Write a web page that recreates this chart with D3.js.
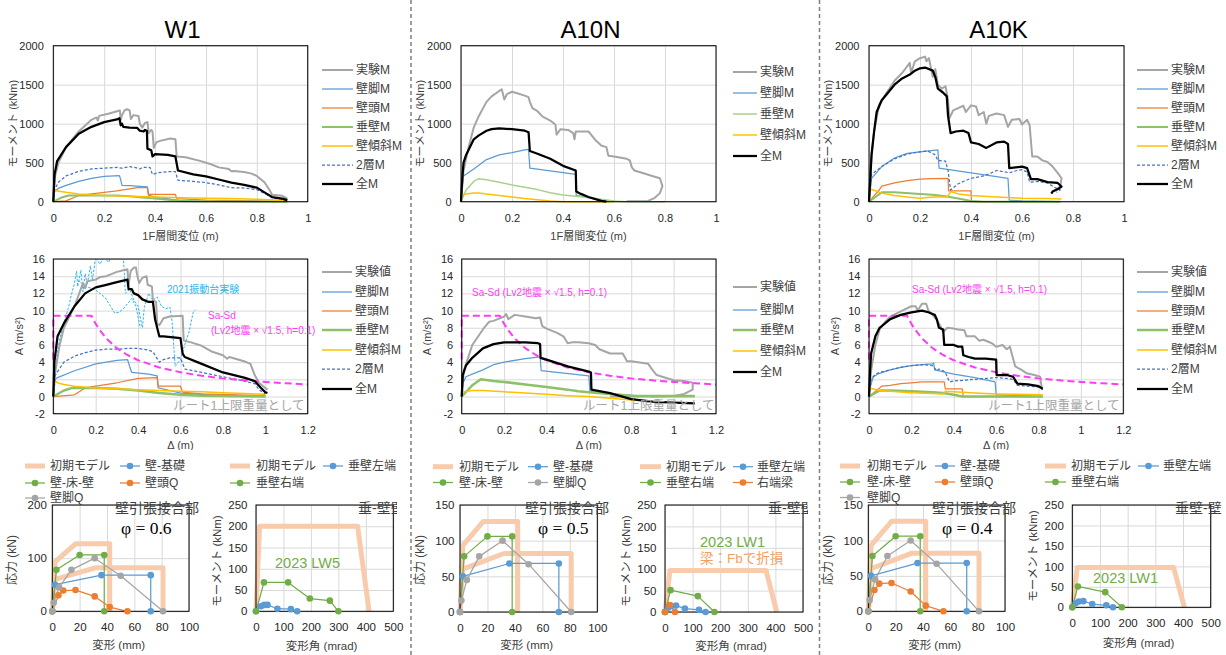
<!DOCTYPE html>
<html><head><meta charset="utf-8">
<script src="https://cdn.jsdelivr.net/npm/d3@7"></script>
<style>body{margin:0;background:#fff}svg{display:block}</style>
</head><body><svg id="c" width="1226" height="655"></svg>
<script>
// ---------------- DATA ----------------
const panelTitles = ['W1', 'A10N', 'A10K'];
const topNamesFull = ['実験M','壁脚M','壁頭M','垂壁M','壁傾斜M','2層M','全M'];
const topNamesA10N = ['実験M','壁脚M','垂壁M','壁傾斜M','全M'];
const midNamesFull = ['実験値','壁脚M','壁頭M','垂壁M','壁傾斜M','2層M','全M'];
const midNamesA10N = ['実験値','壁脚M','垂壁M','壁傾斜M','全M'];
const topXTicks = [0,0.2,0.4,0.6,0.8,1];
const topYTicks = [0,500,1000,1500,2000];
const midXTicks = [0,0.2,0.4,0.6,0.8,1,1.2];
const midYTicks = [-2,0,2,4,6,8,10,12,14,16];
const jointXTicks = [0,20,40,60,80,100];
const jointYTicksW1 = [0,100,200];
const jointYTicks = [0,50,100,150];
const hangXTicks = [0,100,200,300,400,500];
const hangYTicks = [0,50,100,150,200,250];

// W1 top (x: m, y: kNm)
const w1TopExp = [[0,0],[0.005,300],[0.02,500],[0.05,700],[0.1,900],[0.15,1050],[0.17,1080],[0.175,1040],[0.18,1100],[0.22,1130],[0.25,1160],[0.262,1170],[0.265,1050],[0.27,1110],[0.28,1170],[0.29,1185],[0.3,1170],[0.305,1060],[0.315,1110],[0.335,1100],[0.34,1000],[0.35,950],[0.36,1010],[0.37,1020],[0.375,880],[0.385,920],[0.39,900],[0.395,690],[0.405,760],[0.42,780],[0.46,810],[0.48,800],[0.485,580],[0.52,570],[0.58,520],[0.62,480],[0.65,440],[0.69,420],[0.7,390],[0.71,395],[0.75,380],[0.78,360],[0.8,330],[0.83,250],[0.85,150],[0.86,90],[0.9,75],[0.92,40]];
const w1TopBase = [[0,0],[0.005,130],[0.02,170],[0.05,210],[0.1,260],[0.15,300],[0.2,325],[0.26,335],[0.265,280],[0.27,210],[0.3,205],[0.37,190],[0.375,80],[0.4,60],[0.5,15],[0.6,5],[0.92,0]];
const w1TopHead = [[0,0],[0.05,10],[0.1,80],[0.15,100],[0.2,120],[0.25,140],[0.3,165],[0.33,180],[0.37,180],[0.373,95],[0.48,95],[0.485,40],[0.6,20],[0.92,5]];
const w1TopHang = [[0,0],[0.03,50],[0.06,80],[0.1,80],[0.2,80],[0.25,80],[0.3,70],[0.35,55],[0.4,40],[0.5,10],[0.55,5],[0.92,0]];
const w1TopSlope = [[0,160],[0.01,140],[0.05,120],[0.1,100],[0.2,80],[0.3,70],[0.4,60],[0.5,50],[0.6,45],[0.7,40],[0.8,30],[0.92,15]];
const w1Top2F = [[0,0],[0.005,150],[0.02,250],[0.05,330],[0.1,390],[0.15,420],[0.2,430],[0.25,440],[0.27,430],[0.3,450],[0.32,440],[0.34,420],[0.35,440],[0.38,440],[0.39,350],[0.41,370],[0.45,385],[0.48,385],[0.49,275],[0.55,260],[0.6,245],[0.65,215],[0.7,180],[0.75,175],[0.8,155],[0.84,90],[0.86,50],[0.9,30],[0.92,10]];
const w1TopAll = [[0,0],[0.005,350],[0.015,520],[0.05,700],[0.1,870],[0.15,960],[0.2,1020],[0.25,1055],[0.26,1070],[0.265,980],[0.27,1000],[0.275,960],[0.3,950],[0.33,945],[0.34,910],[0.355,900],[0.36,920],[0.368,910],[0.37,680],[0.385,660],[0.39,580],[0.4,610],[0.45,600],[0.48,580],[0.49,400],[0.55,350],[0.6,325],[0.65,285],[0.7,245],[0.75,215],[0.8,180],[0.83,120],[0.86,60],[0.9,40],[0.92,20]];

// A10N top
const a10nTopExp = [[0,0],[0.01,400],[0.03,700],[0.05,950],[0.07,1100],[0.1,1280],[0.12,1350],[0.15,1420],[0.16,1440],[0.17,1310],[0.18,1380],[0.2,1410],[0.22,1390],[0.25,1360],[0.265,1340],[0.27,1280],[0.28,1200],[0.3,1160],[0.32,1090],[0.35,1040],[0.37,990],[0.375,860],[0.39,930],[0.42,920],[0.44,880],[0.445,800],[0.45,900],[0.5,900],[0.51,860],[0.53,780],[0.55,720],[0.57,700],[0.578,590],[0.6,580],[0.65,550],[0.662,530],[0.67,440],[0.68,400],[0.7,380],[0.75,330],[0.78,300],[0.79,200],[0.78,110],[0.76,50],[0.73,5],[0.65,5]];
const a10nTopBase = [[0,0],[0.005,200],[0.01,330],[0.05,420],[0.1,540],[0.15,600],[0.2,630],[0.25,665],[0.265,670],[0.27,430],[0.35,395],[0.45,350],[0.452,80],[0.5,50],[0.55,20],[0.6,5],[0.8,0]];
const a10nTopHang = [[0,0],[0.02,150],[0.05,260],[0.07,295],[0.1,280],[0.15,250],[0.2,215],[0.25,185],[0.3,155],[0.35,115],[0.4,85],[0.45,70],[0.5,55],[0.55,30],[0.6,10],[0.65,0],[0.8,0]];
const a10nTopSlope = [[0,90],[0.02,100],[0.05,110],[0.07,110],[0.1,100],[0.15,80],[0.2,60],[0.25,40],[0.3,25],[0.35,10],[0.4,0],[0.6,0]];
const a10nTopAll = [[0,0],[0.005,300],[0.01,500],[0.02,600],[0.05,800],[0.07,850],[0.1,910],[0.12,930],[0.15,940],[0.2,930],[0.25,910],[0.265,890],[0.27,650],[0.3,615],[0.35,550],[0.4,460],[0.45,400],[0.452,130],[0.47,100],[0.5,60],[0.55,10],[0.57,0]];

// A10K top
const a10kTopExp = [[0,0],[0.01,600],[0.02,900],[0.04,1250],[0.06,1350],[0.08,1450],[0.1,1550],[0.13,1650],[0.16,1780],[0.165,1650],[0.18,1800],[0.2,1840],[0.22,1860],[0.225,1800],[0.235,1840],[0.25,1600],[0.26,1700],[0.27,1500],[0.285,1450],[0.3,1480],[0.31,1300],[0.315,1070],[0.33,1170],[0.35,1200],[0.37,1230],[0.38,1150],[0.4,1235],[0.42,1220],[0.43,1110],[0.45,1150],[0.46,1000],[0.47,1100],[0.5,1130],[0.53,1110],[0.545,960],[0.56,1050],[0.59,1060],[0.6,990],[0.62,1050],[0.63,980],[0.64,580],[0.66,580],[0.68,530],[0.7,510],[0.72,450],[0.74,370],[0.755,300],[0.75,200],[0.735,150]];
const a10kTopBase = [[0,0],[0.01,300],[0.05,450],[0.1,560],[0.15,620],[0.2,640],[0.27,665],[0.275,430],[0.4,370],[0.5,320],[0.545,300],[0.55,20],[0.6,10],[0.75,0]];
const a10kTopHead = [[0,0],[0.04,150],[0.05,200],[0.1,240],[0.15,270],[0.2,290],[0.25,295],[0.31,300],[0.312,140],[0.4,140],[0.402,0],[0.75,0]];
const a10kTopHang = [[0,0],[0.05,120],[0.1,120],[0.2,100],[0.25,90],[0.3,70],[0.35,40],[0.4,10],[0.45,0],[0.75,0]];
const a10kTopSlope = [[0,170],[0.05,110],[0.1,80],[0.15,60],[0.2,45],[0.25,60],[0.3,60],[0.31,70],[0.32,130],[0.35,100],[0.4,80],[0.45,70],[0.5,60],[0.6,45],[0.7,40],[0.755,35]];
const a10kTop2F = [[0,0],[0.01,350],[0.05,450],[0.1,550],[0.15,610],[0.2,640],[0.23,650],[0.26,600],[0.27,530],[0.3,520],[0.31,400],[0.32,150],[0.35,230],[0.4,300],[0.45,330],[0.48,370],[0.5,400],[0.52,390],[0.55,370],[0.58,400],[0.6,410],[0.62,380],[0.63,250],[0.66,260],[0.7,240],[0.73,180],[0.75,150],[0.735,120]];
const a10kTopAll = [[0,0],[0.005,300],[0.01,600],[0.02,900],[0.03,1150],[0.05,1300],[0.08,1420],[0.1,1500],[0.13,1580],[0.16,1630],[0.18,1680],[0.2,1710],[0.22,1720],[0.25,1680],[0.26,1600],[0.27,1450],[0.29,1400],[0.305,1350],[0.31,1100],[0.32,880],[0.34,900],[0.37,910],[0.39,880],[0.4,760],[0.43,740],[0.46,690],[0.5,760],[0.53,770],[0.545,740],[0.55,430],[0.6,450],[0.62,430],[0.635,290],[0.66,290],[0.7,250],[0.74,240],[0.755,195],[0.745,170],[0.72,130],[0.715,105]];

// Middle (x: Δ m, y: A m/s2)
const sasd = [[0,4.3],[0,9.4],[0.18,9.4],[0.2,8.45],[0.22,7.7],[0.25,6.76],[0.3,5.63],[0.35,4.83],[0.4,4.22],[0.5,3.38],[0.6,2.82],[0.7,2.41],[0.8,2.11],[0.9,1.88],[1.0,1.69],[1.1,1.54],[1.2,1.41]];
const w1MidExp = [[0,0],[0.01,3],[0.03,6],[0.05,8],[0.1,10.5],[0.14,13.2],[0.15,12.6],[0.16,13.4],[0.2,13.6],[0.22,13.9],[0.25,14],[0.28,14.3],[0.3,14.5],[0.33,14.7],[0.35,14.8],[0.355,13],[0.365,14.6],[0.38,15],[0.39,15],[0.395,14.2],[0.405,13.2],[0.42,13.8],[0.44,14],[0.445,13],[0.465,12.8],[0.47,11.2],[0.485,11],[0.49,8.5],[0.5,8.3],[0.52,9.1],[0.55,9.3],[0.61,9.4],[0.615,6.5],[0.65,6.3],[0.7,5.9],[0.75,5.2],[0.8,4.8],[0.82,4.4],[0.83,4.6],[0.9,4.1],[0.93,3.8],[0.95,2.5],[0.97,1.6],[1.0,1.0],[1.01,0.8]];
const w1MidBase = [[0,0],[0.005,2],[0.02,2.2],[0.1,3],[0.2,3.8],[0.3,4.2],[0.35,4.3],[0.36,3.5],[0.37,2.8],[0.45,2.6],[0.49,2.4],[0.495,1],[0.55,0.7],[0.6,0.4],[0.8,0.1],[1.0,0]];
const w1MidHead = [[0,0],[0.1,0.2],[0.15,1],[0.2,1.2],[0.3,1.6],[0.4,2.1],[0.49,2.2],[0.495,1.2],[0.6,1.2],[0.61,0.5],[0.7,0.3],[1.0,0.1]];
const w1MidHang = [[0,0],[0.05,0.7],[0.09,1],[0.2,1],[0.3,0.9],[0.4,0.7],[0.5,0.4],[0.6,0.2],[0.7,0.1],[1.0,0]];
const w1MidSlope = [[0,1.9],[0.02,1.6],[0.05,1.4],[0.1,1.2],[0.2,1.0],[0.3,0.9],[0.4,0.8],[0.5,0.7],[0.6,0.6],[0.7,0.55],[0.8,0.45],[0.9,0.35],[1.0,0.25]];
const w1Mid2F = [[0,0],[0.01,2.5],[0.05,4],[0.1,4.7],[0.15,5.1],[0.2,5.4],[0.25,5.5],[0.3,5.5],[0.35,5.6],[0.4,5.6],[0.45,5.4],[0.47,5.2],[0.5,4],[0.52,4.3],[0.55,4.5],[0.6,4.5],[0.62,3.2],[0.7,2.8],[0.8,2.3],[0.9,1.8],[0.95,1.5],[0.97,0.8],[1.0,0.3]];
const w1MidAll = [[0,0],[0.005,4],[0.02,7],[0.05,8.5],[0.1,10.5],[0.15,12],[0.2,12.7],[0.25,13],[0.3,13.3],[0.35,13.6],[0.355,12.5],[0.37,12.5],[0.38,12],[0.4,11.8],[0.42,11.3],[0.45,11],[0.47,11],[0.48,9],[0.49,8],[0.5,7],[0.52,7],[0.6,6.8],[0.61,5],[0.62,4.6],[0.7,3.8],[0.8,2.8],[0.9,2.2],[0.95,1.8],[0.98,1],[1.0,0.5],[1.01,0.4]];
const w1MidShake = [[0,0],[0.01,2.5],[0.02,5.5],[0.035,7.2],[0.05,8.6],[0.07,10.2],[0.085,11.8],[0.1,13.2],[0.11,14.6],[0.115,12.8],[0.13,14.7],[0.14,12.2],[0.15,14.3],[0.16,13],[0.175,15.2],[0.185,13.6],[0.2,16.2],[0.22,15.4],[0.24,16.3],[0.26,15.6],[0.28,16.4],[0.33,16.5],[0.34,12],[0.36,12.5],[0.38,11.2],[0.4,10.5],[0.42,8],[0.43,10.5],[0.45,12],[0.47,11.2],[0.49,11.6],[0.51,10.5],[0.53,10.2],[0.55,10.4],[0.56,8.8],[0.575,3.5],[0.6,4.3],[0.62,6],[0.64,7.5],[0.66,9.8],[0.67,10.1]];
const w1MidShake2 = [[0.12,13.5],[0.15,12.8],[0.18,12.6],[0.2,12.4],[0.22,12],[0.245,11.5],[0.27,10.5],[0.29,9.7],[0.31,9.8],[0.33,10.2],[0.35,10.8],[0.37,11.4],[0.39,10.5],[0.41,8.0]];

const a10nMidExp = [[0,0],[0.01,3],[0.03,4.5],[0.05,6],[0.1,7.8],[0.13,8.7],[0.15,8.8],[0.2,9.3],[0.21,9.6],[0.22,9],[0.25,9.5],[0.3,9.3],[0.35,9.1],[0.37,9.2],[0.38,8.2],[0.4,7.9],[0.45,7.4],[0.48,7],[0.5,6.2],[0.52,6.3],[0.55,6.3],[0.6,6.2],[0.63,6.0],[0.65,5.5],[0.7,5],[0.76,5],[0.78,4.1],[0.8,4.1],[0.88,3.8],[0.9,3.1],[0.92,2.5],[1.0,1.9],[1.05,1.8],[1.09,1.6],[1.09,0.8],[1.05,0.3],[1.0,0.05],[0.9,0],[0.7,0]];
const a10nMidBase = [[0,0],[0.005,1.5],[0.02,2.3],[0.05,2.6],[0.1,3.1],[0.15,3.7],[0.2,4],[0.3,4.4],[0.37,4.6],[0.375,3],[0.45,2.8],[0.6,2.4],[0.605,0.6],[0.7,0.3],[0.9,0],[1.1,0]];
const a10nMidHang = [[0,0],[0.05,1.3],[0.09,2],[0.15,1.8],[0.2,1.7],[0.3,1.4],[0.4,1.1],[0.5,0.8],[0.55,0.6],[0.6,0.5],[0.7,0.3],[0.8,0.1],[0.9,0.05],[1.1,0.05]];
const a10nMidSlope = [[0,0.5],[0.05,0.7],[0.1,0.7],[0.2,0.55],[0.3,0.4],[0.4,0.25],[0.5,0.1],[0.6,0],[0.7,-0.2],[0.8,-0.4],[0.85,-0.5]];
const a10nMidAll = [[0,0],[0.005,2.5],[0.02,3.6],[0.05,4.5],[0.1,5.6],[0.15,6.1],[0.2,6.3],[0.3,6.3],[0.36,6.2],[0.37,6.1],[0.372,4.5],[0.4,4.3],[0.5,3.5],[0.6,2.9],[0.61,2.8],[0.612,0.8],[0.7,0.4],[0.8,-0.3],[0.9,-0.6],[1.0,-0.7],[1.1,-0.8]];

const a10kMidExp = [[0,0],[0.01,3],[0.03,6],[0.05,7.8],[0.08,8.8],[0.1,9.3],[0.15,9.9],[0.2,10.5],[0.22,10.5],[0.23,10],[0.25,10.8],[0.27,10.8],[0.28,10],[0.3,9.5],[0.32,8.9],[0.335,8.3],[0.35,7.5],[0.37,8],[0.4,7.9],[0.42,7.8],[0.45,7.7],[0.46,7],[0.48,7],[0.5,7],[0.52,6.5],[0.54,6.6],[0.58,6.2],[0.6,5.8],[0.63,6],[0.65,5.5],[0.665,5.8],[0.69,3.5],[0.72,3.1],[0.744,2.7],[0.78,2.5],[0.807,2.3],[0.815,1.1]];
const a10kMidBase = [[0,0],[0.005,1],[0.02,2.3],[0.05,2.7],[0.1,3.1],[0.15,3.4],[0.2,3.6],[0.25,3.7],[0.3,3.8],[0.305,3.9],[0.31,3.1],[0.4,2.6],[0.5,2.2],[0.595,1.7],[0.6,0.2],[0.7,0.1],[0.82,0]];
const a10kMidHead = [[0,0],[0.04,0.8],[0.06,1.2],[0.1,1.3],[0.15,1.5],[0.2,1.6],[0.25,1.7],[0.3,1.7],[0.355,1.7],[0.36,0.9],[0.44,0.9],[0.445,0],[0.82,0]];
const a10kMidHang = [[0,0],[0.05,0.7],[0.1,0.7],[0.2,0.6],[0.3,0.5],[0.35,0.4],[0.4,0.2],[0.44,0],[0.82,0]];
const a10kMidSlope = [[0,1],[0.05,0.7],[0.1,0.6],[0.2,0.45],[0.3,0.35],[0.35,0.3],[0.36,0.6],[0.4,0.55],[0.5,0.4],[0.6,0.3],[0.7,0.25],[0.82,0.2]];
const a10kMid2F = [[0,0],[0.01,2],[0.03,2.6],[0.05,2.8],[0.1,3.1],[0.15,3.4],[0.2,3.6],[0.25,3.7],[0.3,3.6],[0.32,3],[0.33,3.2],[0.35,3],[0.36,2.8],[0.38,1.7],[0.4,1.8],[0.45,1.9],[0.5,2],[0.55,2.1],[0.6,2.2],[0.65,2.1],[0.68,2],[0.7,1.3],[0.75,1.2],[0.8,1.1],[0.82,0.8]];
const a10kMidAll = [[0,0],[0.005,3],[0.01,5],[0.03,7],[0.05,8],[0.1,9],[0.15,9.5],[0.2,9.8],[0.25,10],[0.28,9.8],[0.3,9.6],[0.31,9.5],[0.32,9],[0.33,8],[0.35,7.8],[0.355,6],[0.4,6],[0.42,5.8],[0.44,5.8],[0.445,4.8],[0.47,4.6],[0.5,4.4],[0.55,4.4],[0.6,4.3],[0.602,2.5],[0.65,2.5],[0.68,2.3],[0.7,1.5],[0.75,1.4],[0.8,1.2],[0.82,0.9]];

// Bottom: joint (x: mm, y: kN) and hanging wall (x: mrad, y: kNm)
const jointModel = [[0,0],[2,93],[17,127],[42,127],[42,0],null,[0,0],[2,60],[32,82],[81,82],[81,0]];
const jointBase = [[0,0],[2,50],[36,68],[72,68],[72,0]];
const jointFloor = [[0,0],[3,78],[20,106],[38,106],[38,0]];
const jointHeadQ = [[0,0],[4.5,30],[8,39],[17,40],[31,28],[42,8],[55,0]];
const jointFootQ = [[0,0],[1,16],[5,45],[14,78],[31,100],[50,67],[81,0]];
const hangModelLW5 = [[0,0],[13,200],[370,200],[412,0]];
const hangLeftLW5 = [[0,0],[18,12],[30,15],[42,15],[78,6],[127,5],[150,0]];
const hangRightLW5 = [[0,0],[29,68],[117,68],[196,30],[269,25],[300,0]];
const hangModelLW1 = [[0,0],[18,97],[366,97],[405,0]];
const hangLeftLW1 = [[0,0],[12,10],[24,14],[40,15],[72,8],[123,5],[147,0]];
const hangRightLW1 = [[0,0],[20,51],[119,37],[179,0]];
const beamRightLW1 = [[0,0],[18,16],[36,0]];

// ---------------- DRAWING ----------------
const FONT = "'Liberation Sans','Noto Sans CJK JP',sans-serif";
const SERIF = "'Liberation Serif','DejaVu Serif',serif";
const C = {gray:'#A5A5A5', blue:'#5B9BD5', orange:'#ED7D31', green:'#8CC168', lgreen:'#A9D18E', yellow:'#FFC000', dblue:'#4472C4', black:'#000', mag:'#FF3CF5', cyan:'#2EB6EF', peach:'#F8CBAD', bgreen:'#70AD47'};
const svg = d3.select('#c');
svg.append('rect').attr('width',1226).attr('height',655).attr('fill','#fff');
let clipN = 0;

function plot(cfg) {
  const g = svg.append('g');
  const x = d3.scaleLinear().domain(cfg.xd).range([cfg.l, cfg.r]);
  const y = d3.scaleLinear().domain(cfg.yd).range([cfg.b, cfg.t]);
  const W = cfg.r - cfg.l, H = cfg.b - cfg.t;
  const gx = g.append('g').attr('transform', `translate(0,${cfg.b})`)
    .call(d3.axisBottom(x).tickValues(cfg.xt).tickSize(-H).tickFormat(''));
  const gy = g.append('g').attr('transform', `translate(${cfg.l},0)`)
    .call(d3.axisLeft(y).tickValues(cfg.yt).tickSize(-W).tickFormat(''));
  [gx, gy].forEach(a => { a.select('.domain').remove(); a.selectAll('line').attr('stroke', '#d9d9d9').attr('stroke-width', 1); });
  const id = 'clip' + (clipN++);
  svg.append('clipPath').attr('id', id).append('rect')
    .attr('x', cfg.l - 6).attr('y', cfg.t).attr('width', W + 12).attr('height', H + 6);
  const sg = g.append('g').attr('clip-path', `url(#${id})`);
  const line = d3.line().defined(d => d !== null).x(d => x(d[0])).y(d => y(d[1]));
  cfg.series.forEach(s => {
    sg.append('path').datum(s.data).attr('d', line).attr('fill', 'none')
      .attr('stroke', s.color).attr('stroke-width', s.w)
      .attr('stroke-dasharray', s.dash || null).attr('stroke-linejoin', 'round');
  });
  g.append('rect').attr('x', cfg.l).attr('y', cfg.t).attr('width', W).attr('height', H)
    .attr('fill', 'none').attr('stroke', '#000').attr('stroke-width', 1);
  cfg.series.forEach(s => {
    if (s.marker) g.append('g').selectAll('circle').data(s.data.filter(d => d !== null)).join('circle')
      .attr('cx', d => x(d[0])).attr('cy', d => y(d[1])).attr('r', 3.3).attr('fill', s.color);
  });
  const ax = g.append('g').attr('transform', `translate(0,${cfg.b})`)
    .call(d3.axisBottom(x).tickValues(cfg.xt).tickSize(0).tickPadding(cfg.xp).tickFormat(d => String(d)));
  const ay = g.append('g').attr('transform', `translate(${cfg.l},0)`)
    .call(d3.axisLeft(y).tickValues(cfg.yt).tickSize(0).tickPadding(cfg.yp).tickFormat(d => String(d)));
  [ax, ay].forEach(a => { a.select('.domain').remove(); a.selectAll('text').attr('font-family', FONT).attr('font-size', cfg.fs || 11).attr('fill', '#262626'); });
  return {x, y, g};
}

function text(x, y, str, o = {}) {
  const t = svg.append('text').attr('x', x).attr('y', y).attr('dominant-baseline', 'central')
    .attr('font-family', o.font || FONT).attr('font-size', o.size || 11)
    .attr('fill', o.fill || '#262626').attr('text-anchor', o.anchor || 'start').text(str);
  if (o.rotate) t.attr('transform', `rotate(-90,${x},${y})`).attr('text-anchor', 'middle');
  if (o.clip) t.attr('clip-path', `url(#${o.clip})`);
  if (o.weight) t.attr('font-weight', o.weight);
  return t;
}

function legend(items) {
  items.forEach(it => {
    svg.append('line').attr('x1', it.x1).attr('x2', it.x2).attr('y1', it.y).attr('y2', it.y)
      .attr('stroke', it.s.color).attr('stroke-width', it.s.w).attr('stroke-dasharray', it.s.dash || null);
    if (it.s.marker) svg.append('circle').attr('cx', (it.x1 + it.x2) / 2).attr('cy', it.y).attr('r', 3.3).attr('fill', it.s.color);
    text(it.tx, it.y, it.name, {size: 12, fill: '#404040'});
  });
}
function legendCol(names, styles, x1, x2, tx, ys) {
  legend(names.map((n, i) => ({name: n, s: styles[i], x1, x2, tx, y: ys[i]})));
}

// ===== TOP ROW =====
const topBox = [{l:53.3,r:307.7},{l:461,r:716},{l:869,r:1124}];
const sExp = {color:C.gray,w:2}, sBase = {color:C.blue,w:1.25}, sHead = {color:C.orange,w:1.25},
      sHang = {color:C.green,w:2}, sHangL = {color:C.lgreen,w:1.5}, sSlope = {color:C.yellow,w:1.5},
      s2F = {color:C.dblue,w:1.25,dash:'3,2'}, sAll = {color:C.black,w:2.25};
const topStylesFull = [sExp,sBase,sHead,sHang,sSlope,s2F,sAll];
const topStylesA10N = [sExp,sBase,sHangL,sSlope,sAll];
const topData = [
  [w1TopExp,w1TopBase,w1TopHead,w1TopHang,w1TopSlope,w1Top2F,w1TopAll],
  [a10nTopExp,a10nTopBase,a10nTopHang,a10nTopSlope,a10nTopAll],
  [a10kTopExp,a10kTopBase,a10kTopHead,a10kTopHang,a10kTopSlope,a10kTop2F,a10kTopAll]
];
const topStyles = [topStylesFull, topStylesA10N, topStylesFull];
topBox.forEach((bx, i) => {
  plot({l:bx.l, r:bx.r, t:45.7, b:201.7, xd:[0,1], yd:[0,2000], xt:topXTicks, yt:topYTicks, xp:12.4, yp:9.5,
    series: topData[i].map((d, k) => Object.assign({data:d}, topStyles[i][k]))});
  text((bx.l + bx.r) / 2 + 2, 29, panelTitles[i], {size:24, anchor:'middle', fill:'#000'});
  text((bx.l + bx.r) / 2 + 0, 236, '1F層間変位 (m)', {size:11, anchor:'middle', fill:'#404040'});
  text(bx.l - 40.5, 123.7, 'モーメント (kNm)', {size:11, rotate:true, fill:'#404040'});
});
legendCol(topNamesFull, topStylesFull, 322, 353, 356, [70,89,108,127,146,165,184]);
legendCol(topNamesA10N, topStylesA10N, 733, 757, 760, [72,93,114,135,156]);
legendCol(topNamesFull, topStylesFull, 1137, 1168, 1171, [70,89,108,127,146,165,184]);

// ===== MIDDLE ROW =====
svg.append('rect').attr('x',0).attr('y',242).attr('width',1226).attr('height',208).attr('fill','#fff');
const midBox = [{l:53.3,r:307.7},{l:461.7,r:716},{l:869,r:1123.3}];
const mHang = {color:C.green,w:2.5};
const midStylesFull = [sExp,sBase,sHead,mHang,sSlope,s2F,sAll];
const midStylesA10N = [sExp,sBase,mHang,sSlope,sAll];
const sSasd = {color:C.mag,w:2,dash:'7,4'};
const sShake = {color:C.cyan,w:1,dash:'2.5,1.5'};
const midData = [
  [w1MidExp,w1MidBase,w1MidHead,w1MidHang,w1MidSlope,w1Mid2F,w1MidAll],
  [a10nMidExp,a10nMidBase,a10nMidHang,a10nMidSlope,a10nMidAll],
  [a10kMidExp,a10kMidBase,a10kMidHead,a10kMidHang,a10kMidSlope,a10kMid2F,a10kMidAll]
];
const midStyles = [midStylesFull, midStylesA10N, midStylesFull];
midBox.forEach((bx, i) => {
  const ser = [];
  if (i === 0) {
    ser.push(Object.assign({data:w1MidShake}, sShake));
    ser.push(Object.assign({data:w1MidShake2}, sShake));
  }
  midData[i].forEach((d, k) => ser.push(Object.assign({data:d}, midStyles[i][k])));
  ser.splice(ser.length - 1, 0, Object.assign({data:sasd}, sSasd));
  plot({l:bx.l, r:bx.r, t:259, b:413.7, xd:[0,1.2], yd:[-2,16], xt:midXTicks, yt:midYTicks, xp:12.4, yp:8.5, series:ser});
  text((bx.l + bx.r) / 2, 445, 'Δ (m)', {size:11, anchor:'middle', fill:'#404040'});
  text(bx.l - 34.5, 336, 'A (m/s²)', {size:11, rotate:true, fill:'#404040'});
});
legendCol(midNamesFull, midStylesFull, 322, 352, 355, [272,292,311,330,350,369,389]);
legendCol(midNamesA10N, midStylesA10N, 733, 757, 760, [287,310,330,351,372]);
legendCol(midNamesFull, midStylesFull, 1137, 1168, 1171, [272,292,311,330,350,369,389]);
// middle annotations
text(167, 289, '2021振動台実験', {size:10, fill:C.cyan});
text(208, 315, 'Sa-Sd', {size:10, fill:C.mag});
text(211, 330, '(Lv2地震 × √1.5, h=0.1)', {size:10, fill:C.mag});
text(472, 292, 'Sa-Sd (Lv2地震 × √1.5, h=0.1)', {size:10, fill:C.mag});
text(912, 289, 'Sa-Sd (Lv2地震 × √1.5, h=0.1)', {size:10, fill:C.mag});
[173, 583, 988].forEach(xx => text(xx, 406, 'ルート1上限重量として', {size:12.5, fill:'#A6A6A6'}));

// ===== BOTTOM ROW =====
svg.append('rect').attr('x',0).attr('y',450).attr('width',1226).attr('height',205).attr('fill','#fff');
const bModel = {color:C.peach,w:5}, bBase = {color:C.blue,w:1.25,marker:true}, bFloor = {color:C.bgreen,w:1.25,marker:true},
      bHeadQ = {color:C.orange,w:1.25,marker:true}, bFootQ = {color:C.gray,w:1.25,marker:true};
// left joint charts
const jointBoxes = [
  {l:52.3,r:189,t:505,b:611.3,yd:[0,200],yt:jointYTicksW1, head:true},
  {l:460,r:597.3,t:505,b:612,yd:[0,150],yt:jointYTicks, head:false},
  {l:868.3,r:1005,t:505,b:611.3,yd:[0,150],yt:jointYTicks, head:true}
];
jointBoxes.forEach(bx => {
  const ser = [Object.assign({data:jointModel}, bModel), Object.assign({data:jointBase}, bBase),
    Object.assign({data:jointFloor}, bFloor)];
  if (bx.head) ser.push(Object.assign({data:jointHeadQ}, bHeadQ));
  ser.push(Object.assign({data:jointFootQ}, bFootQ));
  plot({l:bx.l, r:bx.r, t:bx.t, b:bx.b, xd:[0,100], yd:bx.yd, xt:jointXTicks, yt:bx.yt, xp:11.8, yp:5.5, fs:11.5, series:ser});
  text((bx.l + bx.r) / 2 - 2, 645, '変形 (mm)', {size:11.5, anchor:'middle', fill:'#404040'});
  text(bx.l - 40, 560, '応力 (kN)', {size:12, rotate:true, fill:'#404040'});
});
// right hanging-wall charts
const hangBoxes = [
  {l:256,r:393.3,t:505,b:611.3, data:[[hangModelLW5,bModel],[hangLeftLW5,bBase],[hangRightLW5,bFloor]]},
  {l:665,r:803,t:505,b:612, data:[[hangModelLW1,bModel],[hangLeftLW1,bBase],[hangRightLW1,bFloor],[beamRightLW1,bHeadQ]]},
  {l:1072.3,r:1210.7,t:505,b:607.3, data:[[hangModelLW1,bModel],[hangLeftLW1,bBase],[hangRightLW1,bFloor]]}
];
hangBoxes.forEach((bx, i) => {
  plot({l:bx.l, r:bx.r, t:bx.t, b:bx.b, xd:[0,500], yd:[0,250], xt:hangXTicks, yt:hangYTicks, xp:11.8, yp:8.5, fs:11.5,
    series: bx.data.map(p => Object.assign({data:p[0]}, p[1]))});
  text((bx.l + bx.r) / 2 - 3, i === 2 ? 643 : 645.5, '変形角 (mrad)', {size:11.5, anchor:'middle', fill:'#404040'});
  text(bx.l - 39, i === 2 ? 556 : 561, 'モーメント (kNm)', {size:11.5, rotate:true, fill:'#404040'});
});
// bottom legends
legend([
  {name:'初期モデル', s:bModel, x1:25, x2:45, tx:50, y:466},
  {name:'壁-基礎', s:bBase, x1:120, x2:140, tx:145, y:466},
  {name:'壁-床-壁', s:bFloor, x1:25, x2:45, tx:50, y:483},
  {name:'壁頭Q', s:bHeadQ, x1:120, x2:140, tx:145, y:483},
  {name:'壁脚Q', s:bFootQ, x1:25, x2:45, tx:50, y:498},
  {name:'初期モデル', s:bModel, x1:230, x2:250, tx:256, y:466},
  {name:'垂壁左端', s:bBase, x1:323, x2:343, tx:348, y:466},
  {name:'垂壁右端', s:bFloor, x1:230, x2:250, tx:256, y:483},
  {name:'初期モデル', s:bModel, x1:433, x2:453, tx:459, y:466.7},
  {name:'壁-基礎', s:bBase, x1:528, x2:548, tx:553, y:466.7},
  {name:'壁-床-壁', s:bFloor, x1:433, x2:453, tx:459, y:482.5},
  {name:'壁脚Q', s:bFootQ, x1:528, x2:548, tx:553, y:482.5},
  {name:'初期モデル', s:bModel, x1:640, x2:661, tx:666, y:466.7},
  {name:'垂壁左端', s:bBase, x1:733, x2:753, tx:757, y:466.7},
  {name:'垂壁右端', s:bFloor, x1:640, x2:661, tx:666, y:482.5},
  {name:'右端梁', s:bHeadQ, x1:733, x2:753, tx:757, y:482.5},
  {name:'初期モデル', s:bModel, x1:840, x2:860, tx:867, y:466},
  {name:'壁-基礎', s:bBase, x1:935, x2:955, tx:960, y:466},
  {name:'壁-床-壁', s:bFloor, x1:840, x2:860, tx:867, y:482},
  {name:'壁頭Q', s:bHeadQ, x1:935, x2:955, tx:960, y:482},
  {name:'壁脚Q', s:bFootQ, x1:840, x2:860, tx:867, y:497.5},
  {name:'初期モデル', s:bModel, x1:1045, x2:1066, tx:1071, y:466},
  {name:'垂壁左端', s:bBase, x1:1138, x2:1159, tx:1163, y:466},
  {name:'垂壁右端', s:bFloor, x1:1045, x2:1066, tx:1071, y:482}
]);
// bottom annotations
svg.append('clipPath').attr('id','cw1').append('rect').attr('x',200).attr('y',450).attr('width',197).attr('height',205);
svg.append('clipPath').attr('id','cn').append('rect').attr('x',610).attr('y',450).attr('width',198).attr('height',205);
[[115,121,'φ = 0.6'],[525,538,'φ = 0.5'],[932,942,'φ = 0.4']].forEach(a => {
  text(a[0], 508, '壁引張接合部', {size:14, fill:'#404040'});
  text(a[1], 528, a[2], {size:17.5, fill:'#000', font:SERIF});
});
text(358, 508, '垂-壁壁', {size:14, fill:'#404040', clip:'cw1'});
text(768, 508, '垂-壁壁', {size:14, fill:'#404040', clip:'cn'});
text(1175, 508, '垂壁-壁', {size:14, fill:'#404040'});
text(275, 563, '2023 LW5', {size:14.5, fill:C.bgreen});
text(700, 542, '2023 LW1', {size:14.5, fill:C.bgreen});
text(700, 558, '梁：Fbで折損', {size:13.5, fill:'#F4A060'});
text(1093, 578, '2023 LW1', {size:14.5, fill:C.bgreen});

// separators
[411, 819.5].forEach(xx => svg.append('line').attr('x1',xx).attr('x2',xx).attr('y1',0).attr('y2',655)
  .attr('stroke','#808080').attr('stroke-width',1.5).attr('stroke-dasharray','4,3'));
</script></body></html>
